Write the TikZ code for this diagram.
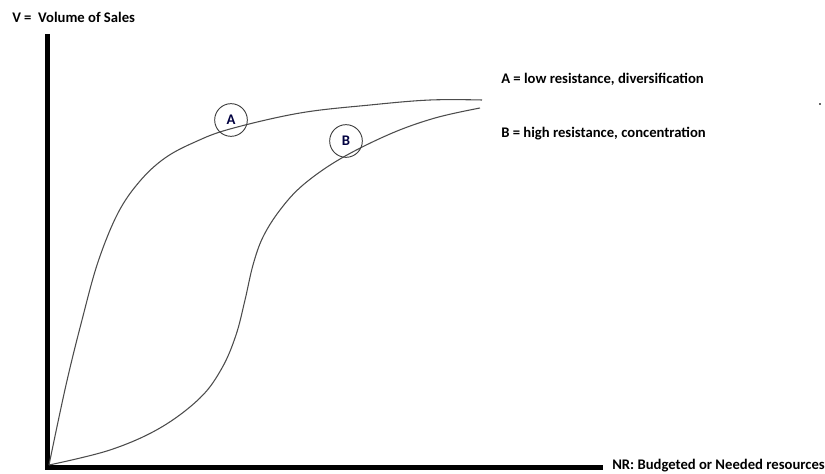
\documentclass[tikz,border=0pt]{standalone}
\usepackage{fontspec}
\setmainfont{Carlito}
\usetikzlibrary{positioning}

\begin{document}
\begin{tikzpicture}[x=0.75pt,y=-0.75pt]
\useasboundingbox (0,0) rectangle (825,474);
\begin{scope}[every node/.style={font=\fontsize{11}{13}\selectfont\bfseries,anchor=base west,inner sep=0pt}]
    \node (vlab) at (12,23) {V =\ \ Volume of Sales};
    \node (alab) at (501,84) {A = low resistance, diversification};
    \node (blab) at (501,138) {B = high resistance, concentration};
    \node (nrlab) at (612,469) {NR: Budgeted or Needed resources};
\end{scope}
\coordinate (vtop) at (47.5,34);
\coordinate (O) at (47.5,467.5);
\coordinate (hend) at (603,467.5);
\draw[line width=3.75pt] (vtop) -- (O) -- (hend);
% the two curves
\begin{scope}[black!70,line width=0.8pt]
    \draw plot[smooth,tension=0.6] coordinates {(49,465) (66,385) (82,320) (98,262) (118,213)
        (140,181) (165,158) (195,142) (230,129) (300,113) (370,105) (430,100) (482,100)};
    \draw plot[smooth,tension=0.6] coordinates {(49,465) (110,450) (160,428) (200,398) (222,368)
        (236,335) (245,300) (253,265) (263,237) (280,210) (303,185) (340,159) (390,134)
        (435,118) (480,108)};
\end{scope}
\begin{scope}[every node/.style={circle,draw=black!75,line width=0.7pt,minimum size=24.5pt,inner sep=0pt,
              font=\fontsize{11}{13}\selectfont\bfseries,text=blue!25!black}]
    \node (A) at (231,120) {A};
    \node (B) at (346,141) {B};
\end{scope}
\fill[black!60] (818.5,103.5) rectangle (821,105);
\end{tikzpicture}
\end{document}
